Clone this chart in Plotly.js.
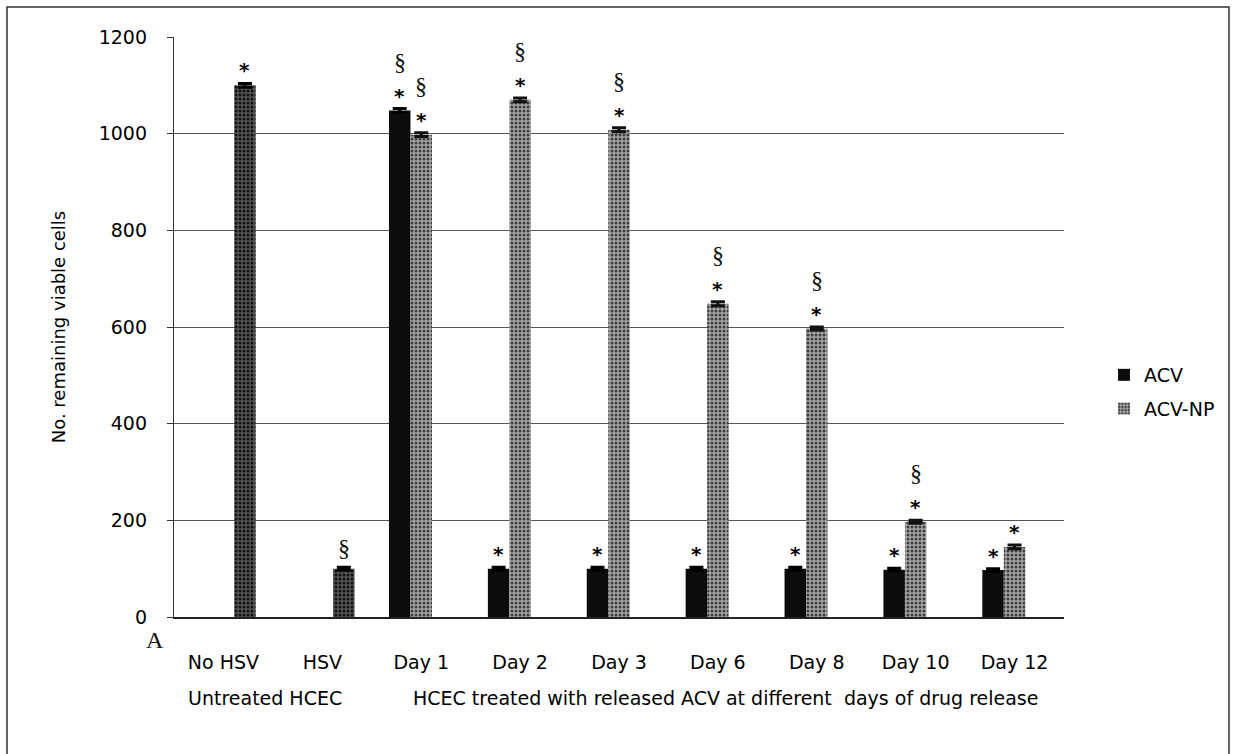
<!DOCTYPE html>
<html>
<head>
<meta charset="utf-8">
<script src="https://cdn.plot.ly/plotly-3.0.1.min.js"></script>
<style>html,body{margin:0;padding:0;background:#fff;}#chart{width:1236px;height:754px;}</style>
</head>
<body>
<div id="chart"></div>
<script>
// ---- data ----
const categories = ['No HSV', 'HSV', 'Day 1', 'Day 2', 'Day 3', 'Day 6', 'Day 8', 'Day 10', 'Day 12'];
const acvValues     = [null, null, 1048, 100, 100, 100, 100, 98, 97];
const acvNpValues   = [null, null, 998, 1070, 1008, 648, 597, 197, 145];
const controlValues = [1100, 100, null, null, null, null, null, null, null];
const acvErr     = [0, 0, 4, 3, 3, 3, 3, 3, 3];
const acvNpErr   = [0, 0, 4, 4, 4, 4, 3, 3, 4];
const controlErr = [4, 3, 0, 0, 0, 0, 0, 0, 0];
// significance marks, listed top to bottom
const acvMarks     = ['', '', '§*', '*', '*', '*', '*', '*', '*'];
const acvNpMarks   = ['', '', '§*', '§*', '§*', '§*', '§*', '§*', '*'];
const controlMarks = ['*', '§', '', '', '', '', '', '', ''];
const seriesNames = ['ACV', 'ACV-NP'];
const groupLabels = ['Untreated HCEC', 'HCEC treated with released ACV at different\u00a0 days of drug release'];

// ---- layout constants ----
const W = 1236, H = 754;
const M = {l: 174, r: 172, t: 37, b: 137};
const plotW = W - M.l - M.r;
const bargap = 0.348;
const barPx = plotW / categories.length * (1 - bargap) / 3;
const FONT = 'DejaVu Sans';

const traces = [
  {type: 'bar', name: seriesNames[0], x: categories, y: acvValues,
   marker: {color: '#0c0c0c', line: {width: 0}},
   error_y: {type: 'data', array: acvErr, visible: true, color: '#000', thickness: 3, width: 7},
   legendgroup: 'a'},
  {type: 'bar', name: seriesNames[1], x: categories, y: acvNpValues,
   marker: {color: '#8e8e8e', line: {width: 0},
            pattern: {shape: '.', fgcolor: '#3e3e3e', bgcolor: '#a6a6a6', size: 4, solidity: 0.45}},
   error_y: {type: 'data', array: acvNpErr, visible: true, color: '#111', thickness: 3, width: 7},
   legendgroup: 'b'},
  {type: 'bar', name: 'Control', x: categories, y: controlValues, showlegend: false,
   marker: {color: '#333', line: {width: 0},
            pattern: {shape: '.', fgcolor: '#111', bgcolor: '#555', size: 4, solidity: 0.45}},
   error_y: {type: 'data', array: controlErr, visible: true, color: '#000', thickness: 3, width: 7}}
];

const annotations = [];
const markSets = [[acvMarks, acvValues, acvErr, -1], [acvNpMarks, acvNpValues, acvNpErr, 0], [controlMarks, controlValues, controlErr, 1]];
markSets.forEach(([marks, vals, errs, off]) => {
  marks.forEach((m, i) => {
    if (!m || vals[i] == null) return;
    const chars = m.split('').reverse();
    chars.forEach((c, lvl) => {
      const isStar = c === '*';
      annotations.push({
        x: categories[i], y: vals[i] + errs[i], xref: 'x', yref: 'y',
        text: c, showarrow: false, yanchor: 'middle', xanchor: 'center',
        xshift: off * barPx,
        yshift: 19 + 28 * lvl + (isStar ? -6 : 0),
        font: isStar ? {family: 'DejaVu Sans', size: 20, color: '#000', weight: 'bold'}
                     : {family: 'Liberation Serif', size: 24, color: '#111'}
      });
    });
  });
});

// group labels under the axis
annotations.push({text: groupLabels[0], xref: 'paper', yref: 'paper', x: (265 - M.l) / plotW, y: -0.14,
  showarrow: false, xanchor: 'center', yanchor: 'middle', font: {family: FONT, size: 19, color: '#000'}});
annotations.push({text: groupLabels[1], xref: 'paper', yref: 'paper', x: (725 - M.l) / plotW, y: -0.14,
  showarrow: false, xanchor: 'center', yanchor: 'middle', font: {family: FONT, size: 19, color: '#000'}});
// panel letter
annotations.push({text: 'A', xref: 'paper', yref: 'paper', x: (155 - M.l) / plotW, y: -0.04,
  showarrow: false, xanchor: 'center', yanchor: 'middle', font: {family: 'Liberation Serif', size: 24, color: '#111'}});

const layout = {
  width: W, height: H,
  margin: M,
  paper_bgcolor: '#fff', plot_bgcolor: '#fff',
  barmode: 'group', bargap: bargap, bargroupgap: 0,
  showlegend: true,
  legend: {x: (1104 - M.l) / plotW, xanchor: 'left', y: 0.45, yanchor: 'top',
           font: {family: FONT, size: 19, color: '#000'}, traceorder: 'grouped', tracegroupgap: 6,
           bgcolor: 'rgba(0,0,0,0)'},
  xaxis: {type: 'category', range: [-0.5, 8.5], showline: true, linecolor: '#222', linewidth: 1.5,
          ticks: '', showgrid: false, zeroline: false, automargin: false, ticklabelstandoff: 28,
          tickfont: {family: FONT, size: 19, color: '#000'}},
  yaxis: {range: [0, 1200], dtick: 200, showline: true, linecolor: '#333', linewidth: 1.2,
          ticks: 'outside', ticklen: 6, tickcolor: '#333', showgrid: true, gridcolor: '#555', gridwidth: 1,
          zeroline: false, automargin: false, ticklabelstandoff: 16,
          tickfont: {family: FONT, size: 19, color: '#000'},
          title: {text: 'No. remaining viable cells', standoff: 28, font: {family: FONT, size: 18, color: '#000'}}},
  annotations: annotations,
  shapes: [{type: 'rect', xref: 'paper', yref: 'paper',
            x0: (7 - M.l) / plotW, x1: (1229 - M.l) / plotW,
            y0: (H - M.b - 760) / (H - M.t - M.b), y1: (H - M.b - 7) / (H - M.t - M.b),
            line: {color: '#333', width: 1.5}, fillcolor: 'rgba(0,0,0,0)'}]
};

Plotly.newPlot('chart', traces, layout, {displayModeBar: false, staticPlot: true});
</script>
</body>
</html>
